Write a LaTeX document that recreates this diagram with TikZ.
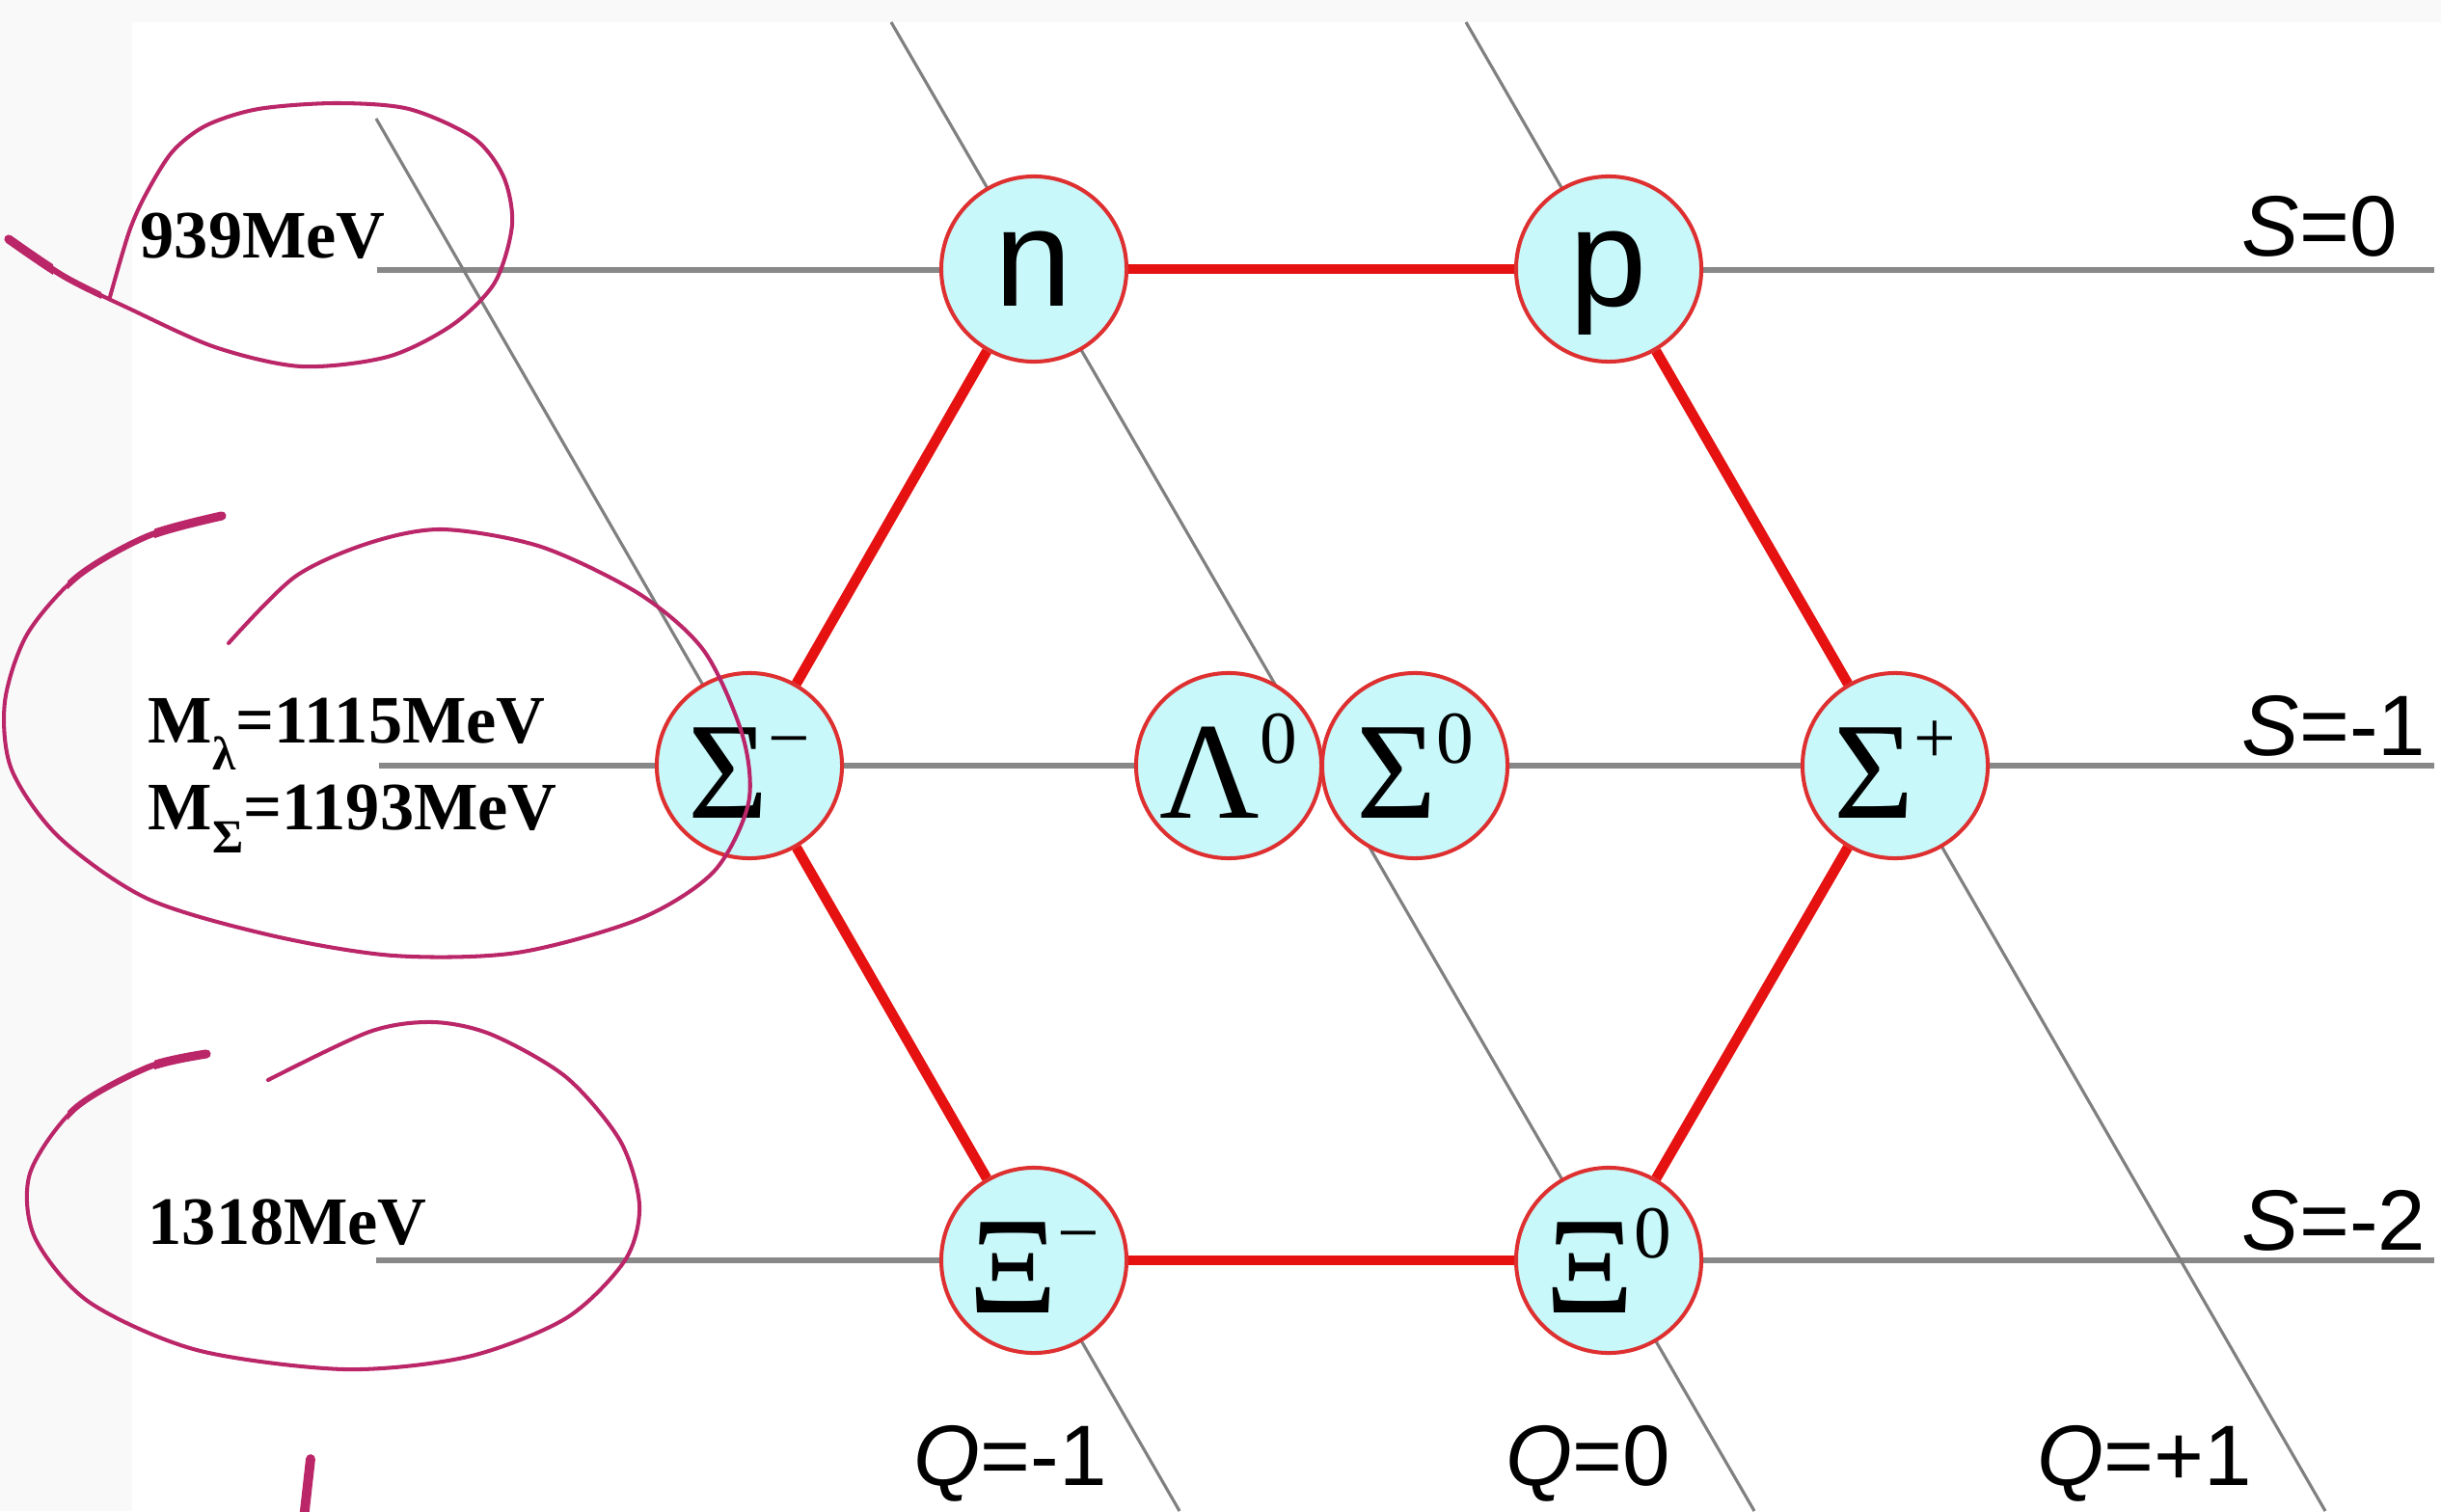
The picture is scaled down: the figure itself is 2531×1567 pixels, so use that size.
\documentclass[tikz,border=0pt]{standalone}
\usepackage{fontspec}
\setmainfont{Liberation Serif}
\newfontfamily\arialf{Liberation Sans}
\definecolor{hexred}{RGB}{230,18,18}
\definecolor{ringred}{RGB}{222,48,48}
\definecolor{cyanfill}{RGB}{200,248,250}
\definecolor{hgray}{RGB}{136,136,136}
\definecolor{dgray}{RGB}{128,128,128}
\definecolor{ink}{RGB}{186,38,104}
\definecolor{band}{RGB}{250,249,250}
\newcommand\massfont{\fontsize{20}{24}\selectfont\bfseries}
\newcommand\subfnt{\fontsize{14}{14}\selectfont\bfseries}
\newcommand\qsfont{\arialf\fontsize{25.3}{28}\selectfont}
\newcommand\grk{\fontsize{40.7}{44}\selectfont}
\newcommand\latf{\arialf\fontsize{41}{44}\selectfont}
\newcommand\hsup[1]{\raisebox{16.2pt}{\fontsize{22}{22}\selectfont\vphantom{0}#1}}
\newcommand\loopA{plot[smooth] coordinates {(9,248) (67,287) (134,320) (223,360) (312,380) (402,370) (469,337) (513,293) (531,233) (522,183) (491,143) (424,113) (348,107) (268,113) (214,130) (179,157) (152,200) (134,240) (114,308)}}
\newcommand\loopB{plot[smooth] coordinates {(230,535) (153,556) (80,598) (28,658) (5,728) (12,798) (61,868) (153,932) (281,970) (408,991) (536,988) (663,953) (740,904) (776,833) (770,763) (730,675) (663,616) (561,567) (459,549) (383,563) (306,598) (237,667)}}
\newcommand\loopC{plot[smooth] coordinates {(214,1093) (153,1107) (77,1150) (31,1217) (36,1283) (92,1350) (204,1400) (357,1420) (485,1407) (587,1367) (648,1307) (663,1250) (643,1183) (587,1117) (510,1073) (449,1060) (383,1070) (278,1120)}}
\tikzset{
  hadron/.style={circle, draw=ringred, line width=1.15pt, fill=cyanfill,
    minimum size=1.92cm, inner sep=0pt},
  hexedge/.style={draw=hexred, line width=3pt},
  sline/.style={draw=hgray, line width=1.6pt},
  qline/.style={draw=dgray, line width=0.9pt},
  txt/.style={anchor=base west, inner sep=0pt},
  inkline/.style={draw=ink, line width=1.15pt, line cap=round, line join=round},
}
\begin{document}
\begin{tikzpicture}[x=0.01cm,y=-0.01cm]
\useasboundingbox (0,0) rectangle (2531,1567);
\fill[band] (0,0) rectangle (2531,1567);
\fill[white] (137,23) rectangle (2531,1567);

% level and charge lines
\coordinate (s0a) at (391,280);  \coordinate (s0b) at (2524,280);
\coordinate (s1a) at (393,794);  \coordinate (s1b) at (2524,794);
\coordinate (s2a) at (390,1307); \coordinate (s2b) at (2524,1307);
\coordinate (qma) at (390,123);  \coordinate (qmb) at (1223,1567);
\coordinate (qza) at (924,23);   \coordinate (qzb) at (1819,1567);
\coordinate (qpa) at (1520,23);  \coordinate (qpb) at (2411,1567);
\draw[sline] (s0a) -- (s0b);
\draw[sline] (s1a) -- (s1b);
\draw[sline] (s2a) -- (s2b);
\draw[qline] (qma) -- (qmb);
\draw[qline] (qza) -- (qzb);
\draw[qline] (qpa) -- (qpb);

% hadrons
\node[hadron, text depth=0pt] (n)  at (1072,279) {\latf n};
\node[hadron, text depth=0pt] (p)  at (1668,279) {\latf p};
\node[hadron] (sm) at (777,794)   {\grk Σ\hsup{−}};
\node[hadron] (lz) at (1274,794)  {\grk Λ\hsup{0}};
\node[hadron] (sz) at (1467,794)  {\grk Σ\hsup{0}};
\node[hadron] (sp) at (1965,794)  {\grk Σ\hsup{+}};
\node[hadron] (xm) at (1072,1307) {\grk Ξ\hsup{−}};
\node[hadron] (xz) at (1668,1307) {\grk Ξ\hsup{0}};

\draw[hexedge] (n) -- (p);
\draw[hexedge] (p) -- (sp);
\draw[hexedge] (sp) -- (xz);
\draw[hexedge] (xz) -- (xm);
\draw[hexedge] (xm) -- (sm);
\draw[hexedge] (sm) -- (n);

% labels
\node[txt] (ls0) at (2324,266)  {\qsfont\itshape S\upshape =0};
\node[txt] (ls1) at (2324,783)  {\qsfont\itshape S\upshape =-1};
\node[txt] (ls2) at (2324,1296) {\qsfont\itshape S\upshape =-2};
\node[txt] (lqm) at (947,1540)  {\qsfont\itshape Q\upshape =-1};
\node[txt] (lqz) at (1561,1540) {\qsfont\itshape Q\upshape =0};
\node[txt] (lqp) at (2112,1540) {\qsfont\itshape Q\upshape =+1};

\node[txt] (m939)  at (145,268)  {\massfont 939MeV};
\node[txt] (mlam)  at (153,770)  {\massfont M\raisebox{-8pt}{\subfnt λ}=1115MeV};
\node[txt] (msig)  at (153,860)  {\massfont M\raisebox{-7pt}{\subfnt Σ}=1193MeV};
\node[txt] (m1318) at (153,1290) {\massfont 1318MeV};

% handwritten annotations
\draw[inkline] \loopA;
\begin{scope}
  \clip (-10,220) rectangle (105,350);
  \draw[inkline, line width=1.8pt] \loopA;
\end{scope}
\begin{scope}
  \clip (-10,220) rectangle (55,350);
  \draw[inkline, line width=2.6pt] \loopA;
\end{scope}

\draw[inkline] \loopB;
\begin{scope}
  \clip (70,515) rectangle (250,610);
  \draw[inkline, line width=1.8pt] \loopB;
\end{scope}
\begin{scope}
  \clip (160,515) rectangle (250,580);
  \draw[inkline, line width=2.6pt] \loopB;
\end{scope}

\draw[inkline] \loopC;
\begin{scope}
  \clip (70,1075) rectangle (235,1165);
  \draw[inkline, line width=1.8pt] \loopC;
\end{scope}
\begin{scope}
  \clip (160,1075) rectangle (235,1125);
  \draw[inkline, line width=2.6pt] \loopC;
\end{scope}

\draw[inkline, line width=2.8pt] (322,1513) -- (315,1575);
\end{tikzpicture}
\end{document}
